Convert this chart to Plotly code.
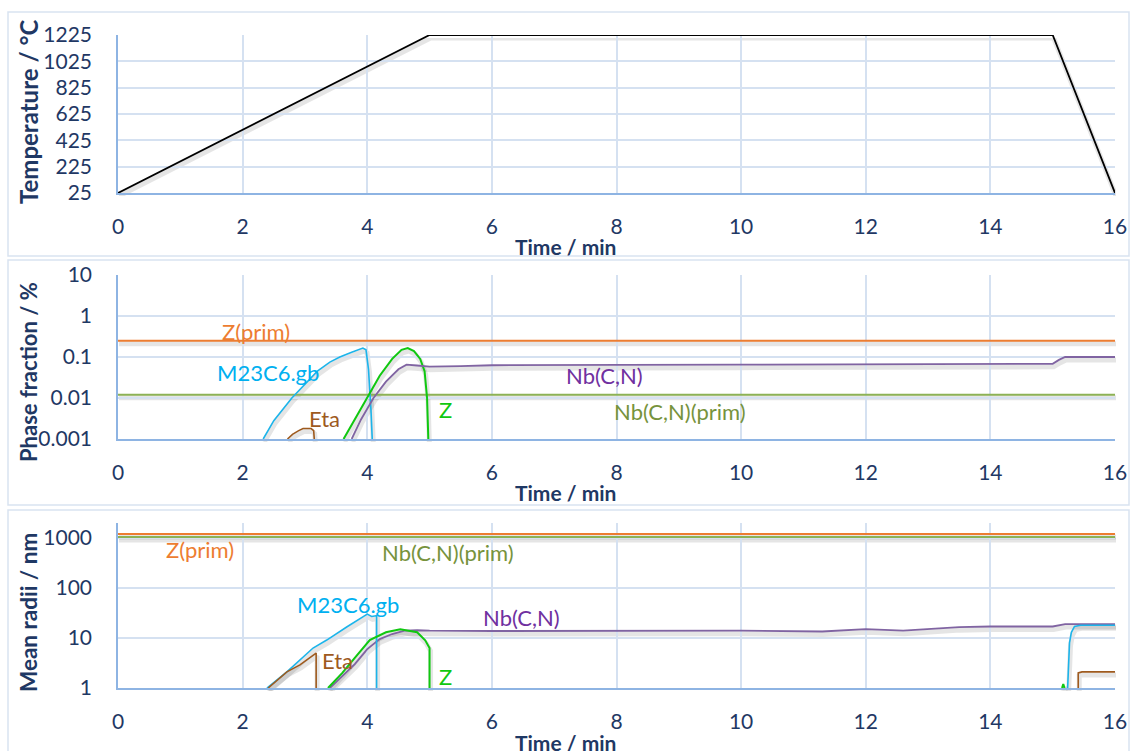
import plotly.graph_objects as go

# ---------------- data ----------------
# Panel 1: temperature program
t_temp = [0, 5, 15, 16]
temp = [25, 1225, 1225, 25]

# Panel 2: phase fraction / %
t_frac_zprim = [0, 16]
frac_zprim = [0.25, 0.25]
t_frac_nbprim = [0, 16]
frac_nbprim = [0.012, 0.012]
t_frac_m23 = [2.33, 2.5, 2.79, 3.0, 3.2, 3.4, 3.56, 3.75, 3.93, 3.98, 4.02, 4.06, 4.08]
frac_m23 = [0.001, 0.0028, 0.01, 0.022, 0.045, 0.075, 0.1, 0.13, 0.165, 0.15, 0.05, 0.005, 0.001]
t_frac_eta = [2.72, 2.8, 2.9, 2.97, 3.1, 3.14, 3.15]
frac_eta = [0.001, 0.0013, 0.0016, 0.0018, 0.0018, 0.0016, 0.001]
t_frac_z = [3.62, 3.8, 4.0, 4.2, 4.4, 4.55, 4.65, 4.75, 4.85, 4.92, 4.96, 4.98]
frac_z = [0.001, 0.003, 0.01, 0.035, 0.09, 0.15, 0.165, 0.14, 0.09, 0.045, 0.01, 0.001]
t_frac_nb = [3.75, 3.9, 4.1, 4.3, 4.5, 4.63, 4.8, 5.0, 5.5, 6.0, 10.0, 15.0, 15.1, 15.2, 16.0]
frac_nb = [0.001, 0.003, 0.01, 0.025, 0.05, 0.065, 0.062, 0.058, 0.06, 0.063, 0.065, 0.068, 0.085, 0.1, 0.1]

# Panel 3: mean radii / nm
t_rad_zprim = [0, 16]
rad_zprim = [1200, 1200]
t_rad_nbprim = [0, 16]
rad_nbprim = [1050, 1050]
t_rad_m23 = [2.39, 2.71, 3.13, 3.35, 3.67, 4.0, 4.07, 4.15, 4.15, None,
             15.24, 15.25, 15.27, 15.3, 15.35, 15.45, 16.0]
rad_m23 = [1, 2.1, 6.3, 9.1, 16.6, 30, 27, 28, 1, None,
           1, 3, 8, 13, 17, 18, 18]
t_rad_eta = [2.41, 2.71, 2.92, 3.18, 3.18, None, 15.41, 15.41, 15.47, 16.0]
rad_eta = [1, 2.1, 2.9, 5.0, 1, None, 1, 2.0, 2.1, 2.1]
t_rad_z = [3.37, 3.6, 3.8, 4.04, 4.3, 4.53, 4.8, 4.93, 5.0, 5.0, None, 15.15, 15.17, 15.19]
rad_z = [1, 2.0, 4.0, 9.1, 13, 15, 13, 9, 6.3, 1, None, 1, 1.2, 1]
t_rad_nb = [3.4, 3.6, 3.8, 4.0, 4.2, 4.4, 4.6, 4.8, 5.0, 6.0, 8.0, 10.0, 11.3, 12.0, 12.6, 13.5, 14.0, 15.0, 15.2, 16.0]
rad_nb = [1, 1.7, 3.0, 6.0, 9.5, 12, 14, 14.3, 14, 13.8, 14, 14, 13.5, 15, 14, 16.5, 17, 17, 19, 19]

x_ticks = [0, 2, 4, 6, 8, 10, 12, 14, 16]
temp_ticks = [25, 225, 425, 625, 825, 1025, 1225]
frac_ticks = [0.001, 0.01, 0.1, 1, 10]
frac_ticktext = ["0.001", "0.01", "0.1", "1", "10"]
rad_ticks = [1, 10, 100, 1000]
rad_ticktext = ["1", "10", "100", "1000"]

# ---------------- style ----------------
W, H = 1135, 751
NAVY = "#1F3864"
GRID = "#D5E1F1"
AXLINE = "#8EB4E3"
BORDER = "#D9E3F1"
FONT = "Lato, 'Open Sans', sans-serif"

C_ORANGE = "#ED7D31"
C_OLIVE = "#8DB255"
C_OLIVE_TXT = "#77933C"
C_PURPLE = "#8064A2"
C_PURPLE_TXT = "#7030A0"
C_CYAN = "#1CB4EA"
C_CYAN_TXT = "#00B0F0"
C_BROWN = "#9E5A1E"
C_GREEN = "#10C810"

x0p, x1p = 118 / W, 1115 / W


def ydom(top, bottom, shift=0):
    return [1 - (bottom + shift) / H, 1 - (top + shift) / H]


panels = [(35, 193), (275, 439), (523, 688)]
SH_DX = 1 / W
SH_DY = 3

fig = go.Figure()

series = [
    (1, t_temp, temp, "black", 1.8),
    (2, t_frac_zprim, frac_zprim, C_ORANGE, 2),
    (2, t_frac_nbprim, frac_nbprim, C_OLIVE, 2),
    (2, t_frac_m23, frac_m23, C_CYAN, 1.6),
    (2, t_frac_eta, frac_eta, C_BROWN, 1.6),
    (2, t_frac_z, frac_z, C_GREEN, 2),
    (2, t_frac_nb, frac_nb, C_PURPLE, 1.8),
    (3, t_rad_zprim, rad_zprim, C_ORANGE, 2),
    (3, t_rad_nbprim, rad_nbprim, C_OLIVE, 2),
    (3, t_rad_nb, rad_nb, C_PURPLE, 1.8),
    (3, t_rad_m23, rad_m23, C_CYAN, 1.6),
    (3, t_rad_eta, rad_eta, C_BROWN, 1.6),
    (3, t_rad_z, rad_z, C_GREEN, 2),
]

# shadow traces (drawn first, on invisible shifted axes 1..3)
for p, xs, ys, col, w in series:
    sx = "x" if p == 1 else f"x{p}"
    sy = "y" if p == 1 else f"y{p}"
    fig.add_trace(go.Scatter(x=xs, y=ys, mode="lines", xaxis=sx, yaxis=sy,
                             line=dict(color="rgba(0,0,0,0.10)", width=5),
                             hoverinfo="skip", showlegend=False))
# main traces on axes 4..6
for p, xs, ys, col, w in series:
    fig.add_trace(go.Scatter(x=xs, y=ys, mode="lines", xaxis=f"x{p+3}", yaxis=f"y{p+3}",
                             line=dict(color=col, width=w), showlegend=False))

tickfont = dict(family=FONT, size=21, color=NAVY)
layout = dict(width=W, height=H, margin=dict(l=0, r=0, t=0, b=0, autoexpand=False),
              paper_bgcolor="white", plot_bgcolor="rgba(0,0,0,0)",
              font=dict(family=FONT, color=NAVY), showlegend=False)

yranges = [dict(type="linear", range=[25, 1225], tickvals=temp_ticks),
           dict(type="log", range=[-3, 1], tickvals=frac_ticks, ticktext=frac_ticktext),
           dict(type="log", range=[0, 3.3], tickvals=rad_ticks, ticktext=rad_ticktext)]

for i, (top, bot) in enumerate(panels):
    p = i + 1
    sxn = "xaxis" if p == 1 else f"xaxis{p}"
    syn = "yaxis" if p == 1 else f"yaxis{p}"
    layout[sxn] = dict(domain=[x0p + SH_DX, x1p + SH_DX], range=[0, 16], visible=False,
                       automargin=False, anchor="y" if p == 1 else f"y{p}")
    yr = dict(yranges[i])
    layout[syn] = dict(domain=ydom(top, bot, SH_DY), visible=False, automargin=False,
                       anchor="x" if p == 1 else f"x{p}",
                       type=yr["type"], range=yr["range"])
    m = p + 3
    layout[f"xaxis{m}"] = dict(domain=[x0p, x1p], range=[0, 16], anchor=f"y{m}",
                               tickvals=x_ticks, showgrid=True, gridcolor=GRID, gridwidth=1.5,
                               showline=True, linecolor=AXLINE, linewidth=1.5,
                               zeroline=False, ticks="", tickfont=tickfont,
                               ticklabelstandoff=14, automargin=False)
    ym = dict(domain=ydom(top, bot), anchor=f"x{m}", showgrid=True, gridcolor=GRID,
              gridwidth=1.5, showline=True, linecolor=AXLINE, linewidth=1.5,
              zeroline=False, ticks="", tickfont=tickfont, ticklabelstandoff=20,
              automargin=False)
    ym.update(yr)
    layout[f"yaxis{m}"] = ym

fig.update_layout(**layout)

# panel borders
for (y0, y1) in [(12, 256), (260, 505), (510, 760)]:
    fig.add_shape(type="rect", xref="paper", yref="paper",
                  x0=8 / W, x1=1129 / W, y0=1 - y1 / H, y1=1 - y0 / H,
                  line=dict(color=BORDER, width=1.5), fillcolor="rgba(0,0,0,0)", layer="below")

# axis titles
for ytxt, yc, fs in [("Temperature / °C", 112, 24), ("Phase fraction / %", 372, 22),
                     ("Mean radii / nm", 613, 22.5)]:
    fig.add_annotation(text=f"<b>{ytxt}</b>", xref="paper", yref="paper", x=28 / W, y=1 - yc / H,
                       textangle=-90, showarrow=False, font=dict(family=FONT, size=fs, color=NAVY),
                       xanchor="center", yanchor="middle")
for yc in [246, 493, 742]:
    fig.add_annotation(text="<b>Time / min</b>", xref="paper", yref="paper", x=565 / W, y=1 - yc / H,
                       showarrow=False, font=dict(family=FONT, size=21, color=NAVY),
                       xanchor="center", yanchor="middle")

# series labels (panel 2 on x5/y5, panel 3 on x6/y6); y in log10 units
lab_font = lambda c: dict(family=FONT, size=22, color=c)
labels2 = [("Z(prim)", 2.21, -0.366, C_ORANGE),
           ("M23C6.gb", 2.41, -1.366, C_CYAN_TXT),
           ("Eta", 3.32, -2.49, C_BROWN),
           ("Z", 5.26, -2.29, C_GREEN),
           ("Nb(C,N)", 7.8, -1.46, C_PURPLE_TXT),
           ("Nb(C,N)(prim)", 9.02, -2.32, C_OLIVE_TXT)]
labels3 = [("Z(prim)", 1.32, 2.78, C_ORANGE),
           ("Nb(C,N)(prim)", 5.3, 2.72, C_OLIVE_TXT),
           ("M23C6.gb", 3.69, 1.68, C_CYAN_TXT),
           ("Nb(C,N)", 6.48, 1.42, C_PURPLE_TXT),
           ("Eta", 3.53, 0.56, C_BROWN),
           ("Z", 5.26, 0.24, C_GREEN)]
for txt, x, y, c in labels2:
    fig.add_annotation(text=txt, x=x, y=y, xref="x5", yref="y5", showarrow=False, font=lab_font(c))
for txt, x, y, c in labels3:
    fig.add_annotation(text=txt, x=x, y=y, xref="x6", yref="y6", showarrow=False, font=lab_font(c))

fig.write_html("out.html", config={"displayModeBar": False},
               post_script="document.body.style.margin='0';")
